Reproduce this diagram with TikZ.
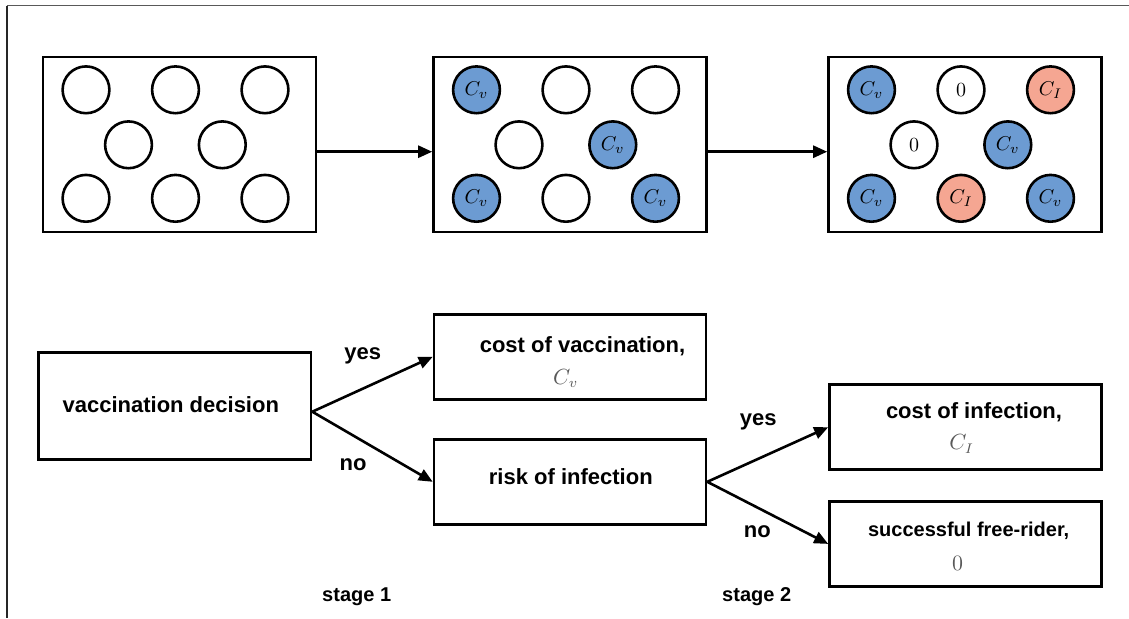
\documentclass[tikz,border=0pt]{standalone}
\usepackage{fontspec}
\setsansfont{Liberation Sans}
\usetikzlibrary{arrows.meta}

\definecolor{vacblue}{RGB}{108,155,210}
\definecolor{infred}{RGB}{245,166,146}

\begin{document}
\begin{tikzpicture}[
  x=0.5pt, y=-0.5pt,
  box/.style={draw, line width=1.3pt, minimum width=136.5pt,
    minimum height=87.5pt, inner sep=0pt},
  leaf/.style={box, minimum width=136pt, minimum height=42.5pt},
  person/.style={circle, draw, line width=1.3pt, minimum size=23.4pt,
    inner sep=0pt, font=\fontsize{10}{12}\selectfont},
  vac/.style={person, fill=vacblue},
  inf/.style={person, fill=infred},
  txt/.style={font=\sffamily\bfseries\fontsize{11}{13}\selectfont},
  small/.style={font=\sffamily\bfseries\fontsize{10}{12}\selectfont},
  sym/.style={text=black!65, font=\fontsize{10.5}{12}\selectfont},
  arr/.style={-{Triangle[length=7pt,width=6pt]}, line width=1.3pt}]

  \useasboundingbox (0,0) rectangle (1129,618);
  \draw[black!65, line width=0.75pt] (6.7,5.5) -- (1129,5.5);
  \draw[black!85, line width=1pt] (6.7,5.5) -- (6.7,618);

  % populations
  \node[box] (pop0) at (179.5,144.3) {};
  \node[box] (pop1) at (570,144.3) {};
  \node[box] (pop2) at (965,144.3) {};

  \foreach \n/\dx/\dy in {1/-93.5/-54.5, 2/-4/-54.5, 3/85.5/-54.5,
      4/-51/0.5, 5/42.8/0.5, 6/-93.5/54, 7/-4/54, 8/85.5/54}
    \node[person] (a\n) at ([shift={(\dx,\dy)}]pop0.center) {};

  \foreach \n/\dx/\dy/\st/\lab in {1/-93.5/-54.5/vac/$C_v$, 2/-4/-54.5/person/{},
      3/85.5/-54.5/person/{}, 4/-51/0.5/person/{}, 5/42.8/0.5/vac/$C_v$,
      6/-93.5/54/vac/$C_v$, 7/-4/54/person/{}, 8/85.5/54/vac/$C_v$}
    \node[\st] (b\n) at ([shift={(\dx,\dy)}]pop1.center) {\lab};

  \foreach \n/\dx/\dy/\st/\lab in {1/-93.5/-54.5/vac/$C_v$, 2/-4/-54.5/person/$0$,
      3/85.5/-54.5/inf/$C_I$, 4/-51/0.5/person/$0$, 5/42.8/0.5/vac/$C_v$,
      6/-93.5/54/vac/$C_v$, 7/-4/54/inf/$C_I$, 8/85.5/54/vac/$C_v$}
    \node[\st] (c\n) at ([shift={(\dx,\dy)}]pop2.center) {\lab};

  \draw[arr] ([yshift=-3.7pt]pop0.east) -- ([yshift=-3.7pt]pop1.west);
  \draw[arr] ([yshift=-3.7pt]pop1.east) -- ([yshift=-3.7pt]pop2.west);

  % decision tree
  \node[box, minimum width=136.3pt, minimum height=53.3pt] (decide) at (174.7,406) {};
  \node[txt] (decidetxt) at (170.8,405) {vaccination decision};

  \node[leaf] (costv) at (570,356.8) {};
  \node[txt] (costvtxt) at (582.5,346.7) {cost of vaccination,};
  \node[sym] (costvsym) at (565.7,378.3) {$C_v$};

  \node[leaf] (risk) at (570,481.8) {};
  \node[txt] (risktxt) at (570.8,476.7) {risk of infection};

  \node[leaf] (costi) at (965.5,427.2) {};
  \node[txt] (costitxt) at (974,412.7) {cost of infection,};
  \node[sym] (costisym) at (961.7,444) {$C_I$};

  \node[leaf] (free) at (965.5,543.9) {};
  \node[small] (freetxt) at (968.7,530.7) {successful free-rider,};
  \node[sym] (freesym) at (957.7,563.3) {$0$};

  \draw[arr] ([yshift=-2.85pt]decide.east) -- (costv.west);
  \draw[arr] ([yshift=-2.85pt]decide.east) -- (risk.west);
  \draw[arr] (risk.east) -- (costi.west);
  \draw[arr] (risk.east) -- (free.west);

  \node[txt] (yes1) at (362.7,356) {yes};
  \node[txt] (no1) at (353,465) {no};
  \node[txt] (yes2) at (758.3,421.7) {yes};
  \node[txt] (no2) at (757.3,531.7) {no};

  \node[small] (stage1) at (356.7,596.7) {stage 1};
  \node[small] (stage2) at (756.7,596.7) {stage 2};
\end{tikzpicture}
\end{document}
